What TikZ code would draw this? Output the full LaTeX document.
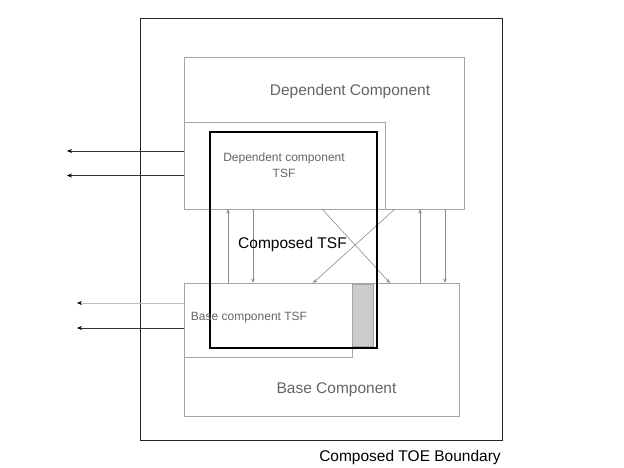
\documentclass[tikz,border=0pt]{standalone}
\usepackage{fontspec}
\setmainfont{Liberation Sans}
\usetikzlibrary{arrows.meta,patterns}
\definecolor{boxgray}{RGB}{165,165,165}
\definecolor{txtgray}{RGB}{100,100,100}
\definecolor{arrgray}{RGB}{140,140,140}
\begin{document}
\begin{tikzpicture}[x=1pt,y=-1pt,
  gbox/.style={draw=boxgray,line width=0.9pt,inner sep=0pt,outer sep=0pt,anchor=north west},
  garrow/.style={draw=arrgray,line width=0.6pt,-{Stealth[length=4.5pt,width=3.5pt]}},
  larrow/.style={draw=black!80,line width=0.8pt,-{Stealth[length=5pt,width=4pt,color=black,fill=black]}},
  bigtxt/.style={font=\fontsize{15.5}{18}\selectfont,inner sep=0pt},
  smalltxt/.style={font=\fontsize{12}{15.6}\selectfont,inner sep=0pt,align=center,text=txtgray}]
\useasboundingbox (0,0) rectangle (624,468);
% outer boundary
\node[anchor=north west,draw=black!85,line width=1.4pt,inner sep=0pt,minimum width=362pt,minimum height=422pt] (toe) at (140,18) {};
% dependent component
\node[gbox,minimum width=280pt,minimum height=152pt] (dc) at (184,57) {};
\node[gbox,minimum width=201pt,minimum height=87pt] (dtsf) at (184,122) {};
% base component
\node[gbox,minimum width=275pt,minimum height=133pt] (bc) at (184,283) {};
\node[gbox,minimum width=168pt,minimum height=74pt] (btsf) at (184,283) {};
% hatched region
\node[anchor=north west,inner sep=0pt,minimum width=21pt,minimum height=62pt,fill=black!20,draw=boxgray,line width=0.4pt] (hatch) at (352,284) {};
% arrows between components
\draw[garrow] ([xshift=44pt]bc.north west) -- ([xshift=44pt]dc.south west);
\draw[garrow] ([xshift=69pt]dc.south west) -- ([xshift=69pt]bc.north west);
\draw[garrow] ([xshift=138pt]dc.south west) -- ([xshift=206pt]bc.north west);
\draw[garrow] ([xshift=211pt]dc.south west) -- ([xshift=129pt]bc.north west);
\draw[garrow] ([xshift=236pt]bc.north west) -- ([xshift=236pt]dc.south west);
\draw[garrow] ([xshift=261pt]dc.south west) -- ([xshift=261pt]bc.north west);
% external interfaces
\coordinate (l1) at (67,151);
\coordinate (l2) at (67,175.5);
\coordinate (l3) at (77,303);
\coordinate (l4) at (77,328);
\draw[larrow] (dtsf.west |- l1) -- (l1);
\draw[larrow] (dtsf.west |- l2) -- (l2);
\draw[larrow,draw=black!25] (btsf.west |- l3) -- (l3);
\draw[larrow] (btsf.west |- l4) -- (l4);
% composed TSF
\node[anchor=north west,draw=black,line width=2pt,inner sep=0pt,minimum width=167pt,minimum height=216pt] (ctsf) at (209,131) {};
% labels
\node[bigtxt,text=txtgray] (dclab) at (350,91.5) {Dependent Component};
\node[smalltxt] (dtsflab) at (284,165) {Dependent component\\TSF};
\node[bigtxt,text=black] (ctsflab) at (292.5,244) {Composed TSF};
\node[smalltxt] (btsflab) at (249,318) {Base component TSF};
\node[bigtxt,text=txtgray] (bclab) at (336.5,389.5) {Base Component};
\node[bigtxt,text=black] (toelab) at (410,457) {Composed TOE Boundary};
\end{tikzpicture}
\end{document}
